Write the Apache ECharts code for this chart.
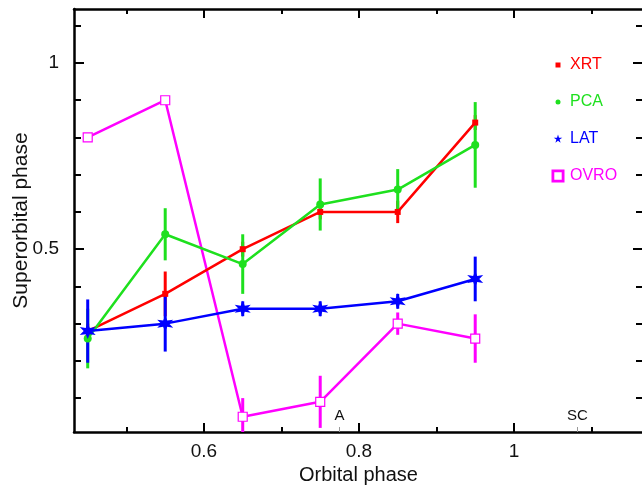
<!DOCTYPE html>
<html>
<head>
<meta charset="utf-8">
<script src="https://cdn.jsdelivr.net/npm/echarts@6/dist/echarts.min.js"></script>
<style>
html,body{margin:0;padding:0;background:#fff}
#chart{width:642px;height:487px}
</style>
</head>
<body>
<div id="chart"></div>
<script>
// orbital phase bins
const phases = [0.45, 0.55, 0.65, 0.75, 0.85, 0.95];

// superorbital phase per instrument, with half error bars
const xrt    = [0.28, 0.38, 0.50, 0.60, 0.60, 0.84];
const xrtErr = [0.02, 0.06, 0.02, 0.02, 0.03, 0.02];
const pca    = [0.26, 0.54, 0.46, 0.62, 0.66, 0.78];
const pcaErr = [0.08, 0.07, 0.08, 0.07, 0.055, 0.115];
const lat    = [0.28, 0.30, 0.34, 0.34, 0.36, 0.42];
const latErr = [0.085, 0.075, 0.02, 0.02, 0.02, 0.06];
const ovro   = [0.80, 0.90, 0.05, 0.09, 0.30, 0.26];
const ovroErr= [0, 0, 0.05, 0.07, 0.03, 0.065];

// ticks
const xMajor = [0.6, 0.8, 1];
const xMinor = [0.5, 0.7, 0.9, 1.1];
const yMajor = [0.5, 1];
const yMinor = [0.1, 0.2, 0.3, 0.4, 0.6, 0.7, 0.8, 0.9, 1.1];
const markNames = ['A', 'SC'];
const markPos = [0.775, 1.082];

const X_MIN = 0.4323, X_MAX = 1.1665;
const Y_MIN = 0.009, Y_MAX = 1.145;
const FONT = 'Liberation Sans, Arial, sans-serif';

const colors = {XRT:'#ff0000', PCA:'#1ee01e', LAT:'#0000ff', OVRO:'#ff00ff'};

// six pointed star for LAT
const star = 'path://M50,0L61,31L93.3,25L72,50L93.3,75L61,69L50,100L39,69L6.7,75L28,50L6.7,25L39,31Z';

function axis(position, ticks, len, extra) {
    return Object.assign({
        type:'value', min: position=='left'||position=='right'?Y_MIN:X_MIN,
        max: position=='left'||position=='right'?Y_MAX:X_MAX,
        position: position,
        axisLine:{show:true, onZero:false, lineStyle:{color:'#000', width:2.5}},
        axisTick:{show:true, inside:true, length:len, customValues:ticks, lineStyle:{color:'#000', width:2}},
        axisLabel:{show:false},
        splitLine:{show:false}
    }, extra || {});
}

function zip(ys, errs) {
    return phases.map((p, i) => errs ? [p, ys[i], errs[i]] : [p, ys[i]]);
}

function errBars(name, ys, errs) {
    return {
        type:'custom', name: name + ' err', clip:true,
        data: zip(ys, errs),
        encode:{x:0, y:1},
        renderItem(params, api) {
            const x = api.value(0), y = api.value(1), e = api.value(2);
            const a = api.coord([x, y - e]), b = api.coord([x, y + e]);
            return {type:'line', shape:{x1:a[0], y1:a[1], x2:b[0], y2:b[1]},
                style:{stroke: colors[name], lineWidth:3}};
        }
    };
}

function line(name, ys, symbol, size, empty) {
    return {
        type:'line', name: name, data: zip(ys),
        symbol: symbol, symbolSize: size,
        lineStyle:{color: colors[name], width:2.5},
        itemStyle: empty ? {color:'#fff', borderColor: colors[name], borderWidth:1.2}
                         : {color: colors[name], borderWidth:0},
        emphasis:{disabled:true}
    };
}

const myChart = echarts.init(document.getElementById('chart'));
const option = {
    animation:false,
    textStyle:{fontFamily:FONT},
    grid:{left:74, right:-1, top:9, bottom:55, outerBoundsMode:'none', containLabel:false},
    xAxis:[
        axis('bottom', xMajor, 9, {
            name:'Orbital phase', nameLocation:'middle', nameGap:32,
            nameTextStyle:{fontSize:20, color:'#111', fontFamily:FONT},
            axisLabel:{show:true, customValues:xMajor, fontSize:19, color:'#111', margin:10, fontFamily:FONT}
        }),
        axis('bottom', xMinor, 5, {axisLine:{show:false}}),
        axis('bottom', markPos, 5, {
            axisLine:{show:false},
            axisTick:{show:true, inside:true, length:5, customValues:markPos, lineStyle:{color:'#999', width:1}},
            axisLabel:{show:true, inside:true, customValues:markPos, margin:9, fontSize:15, color:'#111', fontFamily:FONT,
                formatter: v => markNames[markPos.indexOf(v)]}
        }),
        axis('top', xMajor, 9),
        axis('top', xMinor, 5, {axisLine:{show:false}})
    ],
    yAxis:[
        axis('left', yMajor, 10, {
            name:'Superorbital phase', nameLocation:'middle', nameGap:42, nameMoveOverlap:false,
            nameTextStyle:{fontSize:21, color:'#111', fontFamily:FONT},
            axisLabel:{show:true, customValues:yMajor, fontSize:19, color:'#111', margin:15, fontFamily:FONT}
        }),
        axis('left', yMinor, 7, {axisLine:{show:false}}),
        axis('right', yMajor, 10),
        axis('right', yMinor, 7, {axisLine:{show:false}})
    ],
    legend:{
        orient:'vertical', left:545, top:52, itemWidth:14, itemHeight:12, itemGap:21,
        selectedMode:false,
        textStyle:{fontSize:16, fontFamily:FONT},
        data:[
            {name:'XRT', icon:'path://M0,0M14,12M4.5,3.5h5v5h-5z', itemStyle:{color:colors.XRT}, textStyle:{color:colors.XRT}},
            {name:'PCA', icon:'path://M0,0M14,12M9.5,6A2.5,2.5,0,1,1,4.5,6A2.5,2.5,0,1,1,9.5,6z', itemStyle:{color:colors.PCA}, textStyle:{color:colors.PCA}},
            {name:'LAT', icon:'path://M0,0M14,12M7,1.5L8,4.7L11.3,4.7L8.6,6.6L9.6,9.8L7,7.8L4.4,9.8L5.4,6.6L2.7,4.7L6,4.7Z', itemStyle:{color:colors.LAT}, textStyle:{color:colors.LAT}},
            {name:'OVRO', icon:'path://M0,0M14,12M1.5,0.5h11v11h-11zM2.3,1.3v9.4h9.4v-9.4z', itemStyle:{color:colors.OVRO}, textStyle:{color:colors.OVRO}}
        ]
    },
    series:[
        errBars('OVRO', ovro, ovroErr),
        line('OVRO', ovro, 'rect', 9, true),
        errBars('XRT', xrt, xrtErr),
        line('XRT', xrt, 'rect', 6),
        errBars('PCA', pca, pcaErr),
        line('PCA', pca, 'circle', 8),
        errBars('LAT', lat, latErr),
        line('LAT', lat, star, 16)
    ]
};
myChart.setOption(option);
window.addEventListener('resize', function () {
    myChart.resize();
});
</script>
</body>
</html>
